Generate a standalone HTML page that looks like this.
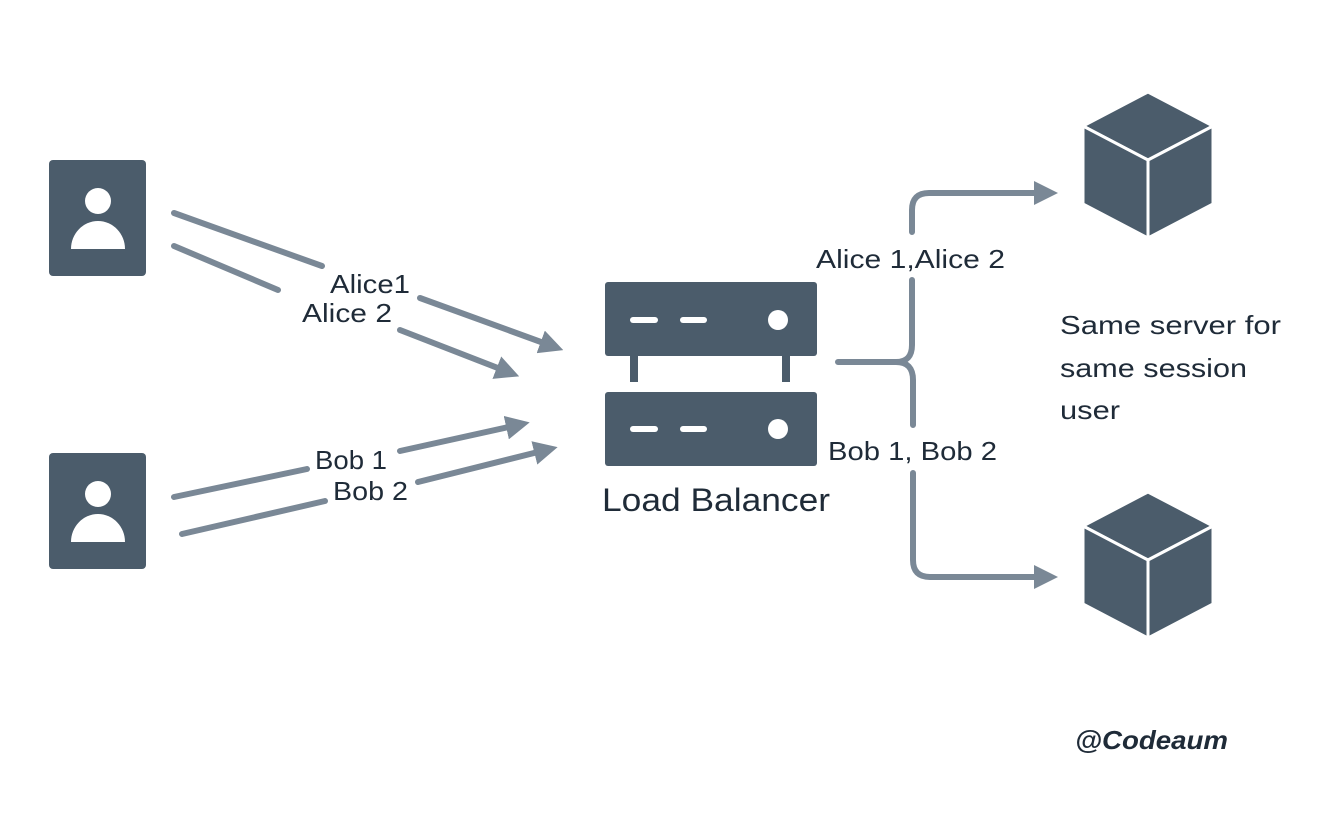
<!DOCTYPE html>
<html><head><meta charset="utf-8"><style>
html,body{margin:0;padding:0;background:#fff;}
svg{display:block}
text{font-family:"Liberation Sans",sans-serif;fill:#1f2b38;}
</style></head><body>
<svg width="1322" height="816" viewBox="0 0 1322 816" xmlns="http://www.w3.org/2000/svg">
<defs>
<marker id="ah" markerWidth="4" markerHeight="4" refX="2" refY="2" orient="auto" markerUnits="strokeWidth">
<path d="M0,0 L4,2 L0,4 z" fill="#7a8896"/>
</marker>
</defs>
<g fill="#4b5c6b">
<rect x="49" y="160" width="97" height="116" rx="4"/>
<rect x="49" y="453" width="97" height="116" rx="4"/>
</g>
<g fill="#fff">
<circle cx="98" cy="201" r="13"/>
<path d="M71,249 A27,28 0 0 1 125,249 Z"/>
<circle cx="98" cy="494" r="13"/>
<path d="M71,542 A27,28 0 0 1 125,542 Z"/>
</g>
<g stroke="#7a8896" stroke-width="6" stroke-linecap="round" fill="none">
<line x1="174" y1="213" x2="322" y2="266"/>
<line x1="420" y1="298" x2="552" y2="346" marker-end="url(#ah)"/>
<line x1="174" y1="246" x2="278" y2="290"/>
<line x1="400" y1="330" x2="508" y2="372" marker-end="url(#ah)"/>
<line x1="174" y1="497" x2="307" y2="469"/>
<line x1="400" y1="451" x2="518" y2="425" marker-end="url(#ah)"/>
<line x1="182" y1="534" x2="325" y2="501"/>
<line x1="418" y1="482" x2="546" y2="450" marker-end="url(#ah)"/>
</g>
<g font-size="26" lengthAdjust="spacingAndGlyphs">
<text x="330" y="293" textLength="80" lengthAdjust="spacingAndGlyphs">Alice1</text>
<text x="302" y="322" textLength="90" lengthAdjust="spacingAndGlyphs">Alice 2</text>
<text x="315" y="469" textLength="72" lengthAdjust="spacingAndGlyphs">Bob 1</text>
<text x="333" y="500" textLength="75" lengthAdjust="spacingAndGlyphs">Bob 2</text>
</g>
<g fill="#4b5c6b">
<rect x="605" y="282" width="212" height="74" rx="3"/>
<rect x="605" y="392" width="212" height="74" rx="3"/>
<rect x="630" y="355" width="8" height="27"/>
<rect x="782" y="355" width="8" height="27"/>
</g>
<g stroke="#fff" stroke-width="6" stroke-linecap="round">
<line x1="633" y1="320" x2="655" y2="320"/>
<line x1="683" y1="320" x2="704" y2="320"/>
<line x1="633" y1="429" x2="655" y2="429"/>
<line x1="683" y1="429" x2="704" y2="429"/>
</g>
<circle cx="778" cy="320" r="10" fill="#fff"/>
<circle cx="778" cy="429" r="10" fill="#fff"/>
<text x="602" y="511" font-size="32" textLength="228" lengthAdjust="spacingAndGlyphs">Load Balancer</text>
<g stroke="#7a8896" stroke-width="6" stroke-linecap="round" fill="none">
<path d="M912,232 L912,210 Q912,193 929,193 L1046,193" marker-end="url(#ah)"/>
<path d="M912,280 L912,345 Q912,362 896,362 L838,362"/>
<path d="M896,362 Q913,362 913,380 L913,425"/>
<path d="M913,473 L913,560 Q913,577 930,577 L1046,577" marker-end="url(#ah)"/>
</g>
<text x="816" y="268" font-size="26" textLength="189" lengthAdjust="spacingAndGlyphs">Alice 1,Alice 2</text>
<text x="828" y="460" font-size="26" textLength="169" lengthAdjust="spacingAndGlyphs">Bob 1, Bob 2</text>
<text x="1060" y="334" font-size="26" textLength="221" lengthAdjust="spacingAndGlyphs">Same server for</text>
<text x="1060" y="377" font-size="26" textLength="187" lengthAdjust="spacingAndGlyphs">same session</text>
<text x="1060" y="419" font-size="26" textLength="60" lengthAdjust="spacingAndGlyphs">user</text>
<g fill="#4b5c6b" stroke="#fff" stroke-width="3" stroke-linejoin="round">
<path d="M1148,92 L1213,126 L1148,160 L1083,126 Z"/>
<path d="M1083,126 L1148,160 L1148,238 L1083,204 Z"/>
<path d="M1213,126 L1148,160 L1148,238 L1213,204 Z"/>
<path d="M1148,492 L1213,526 L1148,560 L1083,526 Z"/>
<path d="M1083,526 L1148,560 L1148,638 L1083,604 Z"/>
<path d="M1213,526 L1148,560 L1148,638 L1213,604 Z"/>
</g>
<text x="1075" y="749" font-size="26" font-weight="bold" font-style="italic" textLength="153" lengthAdjust="spacingAndGlyphs">@Codeaum</text>
</svg>
</body></html>
